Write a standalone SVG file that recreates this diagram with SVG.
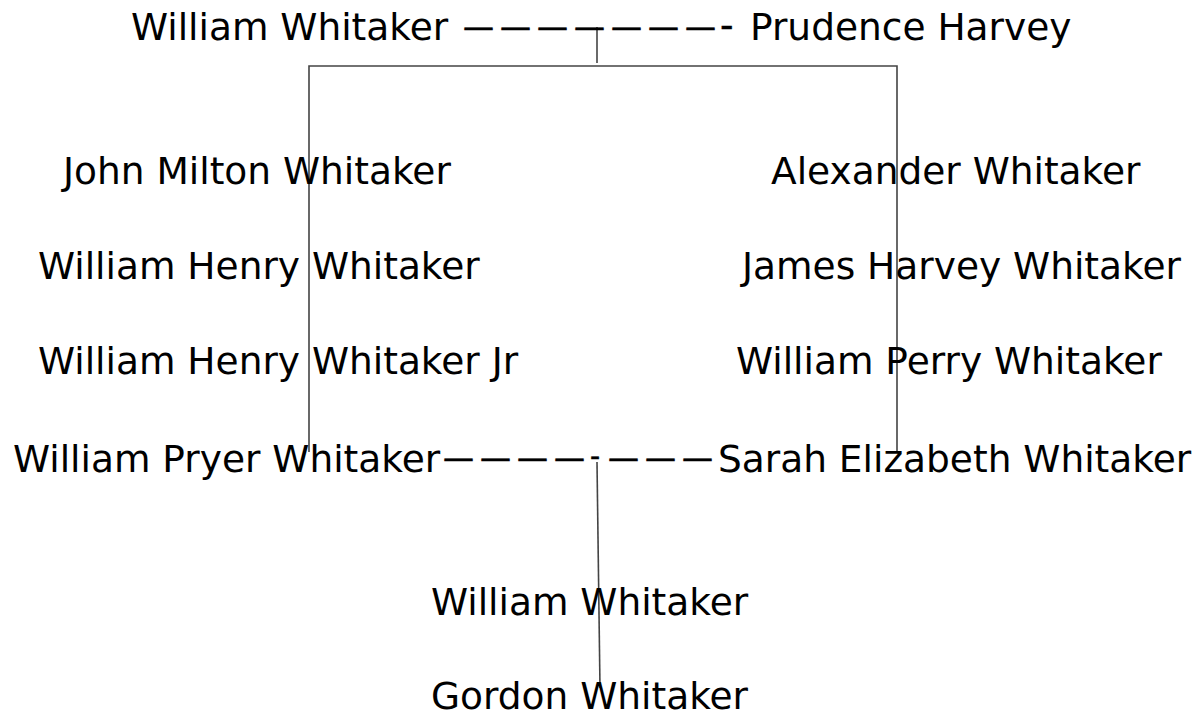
<svg xmlns="http://www.w3.org/2000/svg" width="1199" height="716" viewBox="0 0 1199 716">
<style>
.t{font-family:"DejaVu Sans","Verdana",sans-serif;font-size:37.5px;fill:#000}
.d{font-size:31px;letter-spacing:6px;stroke:#000;stroke-width:0.5}
.h{font-size:37.5px;letter-spacing:0;stroke:#000;stroke-width:0.4}
.s{font-size:28px;letter-spacing:0;stroke:#000;stroke-width:0.5}
.c{stroke:#444;stroke-width:1.6;fill:none}
</style>
<rect width="1199" height="716" fill="#fff"/>
<g id="connectors">
<line class="c" x1="597" y1="27" x2="597" y2="63"/>
<polyline class="c" points="309,452 309,66 897,66 897,452"/>
<line class="c" x1="597" y1="462" x2="600" y2="688"/>
</g>
<g id="couple-top">
<text class="t" x="131" y="40">William Whitaker<tspan class="d" x="463" y="37">———————</tspan><tspan class="h" x="720" y="38">-</tspan><tspan x="750" y="40">Prudence Harvey</tspan></text>
</g>
<g id="node-john-milton"><text class="t" x="63" y="184">John Milton Whitaker</text></g>
<g id="node-william-henry"><text class="t" x="38" y="279">William Henry Whitaker</text></g>
<g id="node-william-henry-jr"><text class="t" x="38" y="374">William Henry Whitaker Jr</text></g>
<g id="node-alexander"><text class="t" x="771" y="184">Alexander Whitaker</text></g>
<g id="node-james-harvey"><text class="t" x="742" y="279">James Harvey Whitaker</text></g>
<g id="node-william-perry"><text class="t" x="736" y="374">William Perry Whitaker</text></g>
<g id="couple-bottom">
<text class="t" x="13" y="472">William Pryer Whitaker<tspan class="d" x="443" y="468">————</tspan><tspan class="s" x="590" y="466">-</tspan><tspan class="d" x="608" y="468">———</tspan><tspan x="718" y="472">Sarah Elizabeth Whitaker</tspan></text>
</g>
<g id="node-william-whitaker"><text class="t" x="431" y="615">William Whitaker</text></g>
<g id="node-gordon"><text class="t" x="431" y="709">Gordon Whitaker</text></g>
</svg>
